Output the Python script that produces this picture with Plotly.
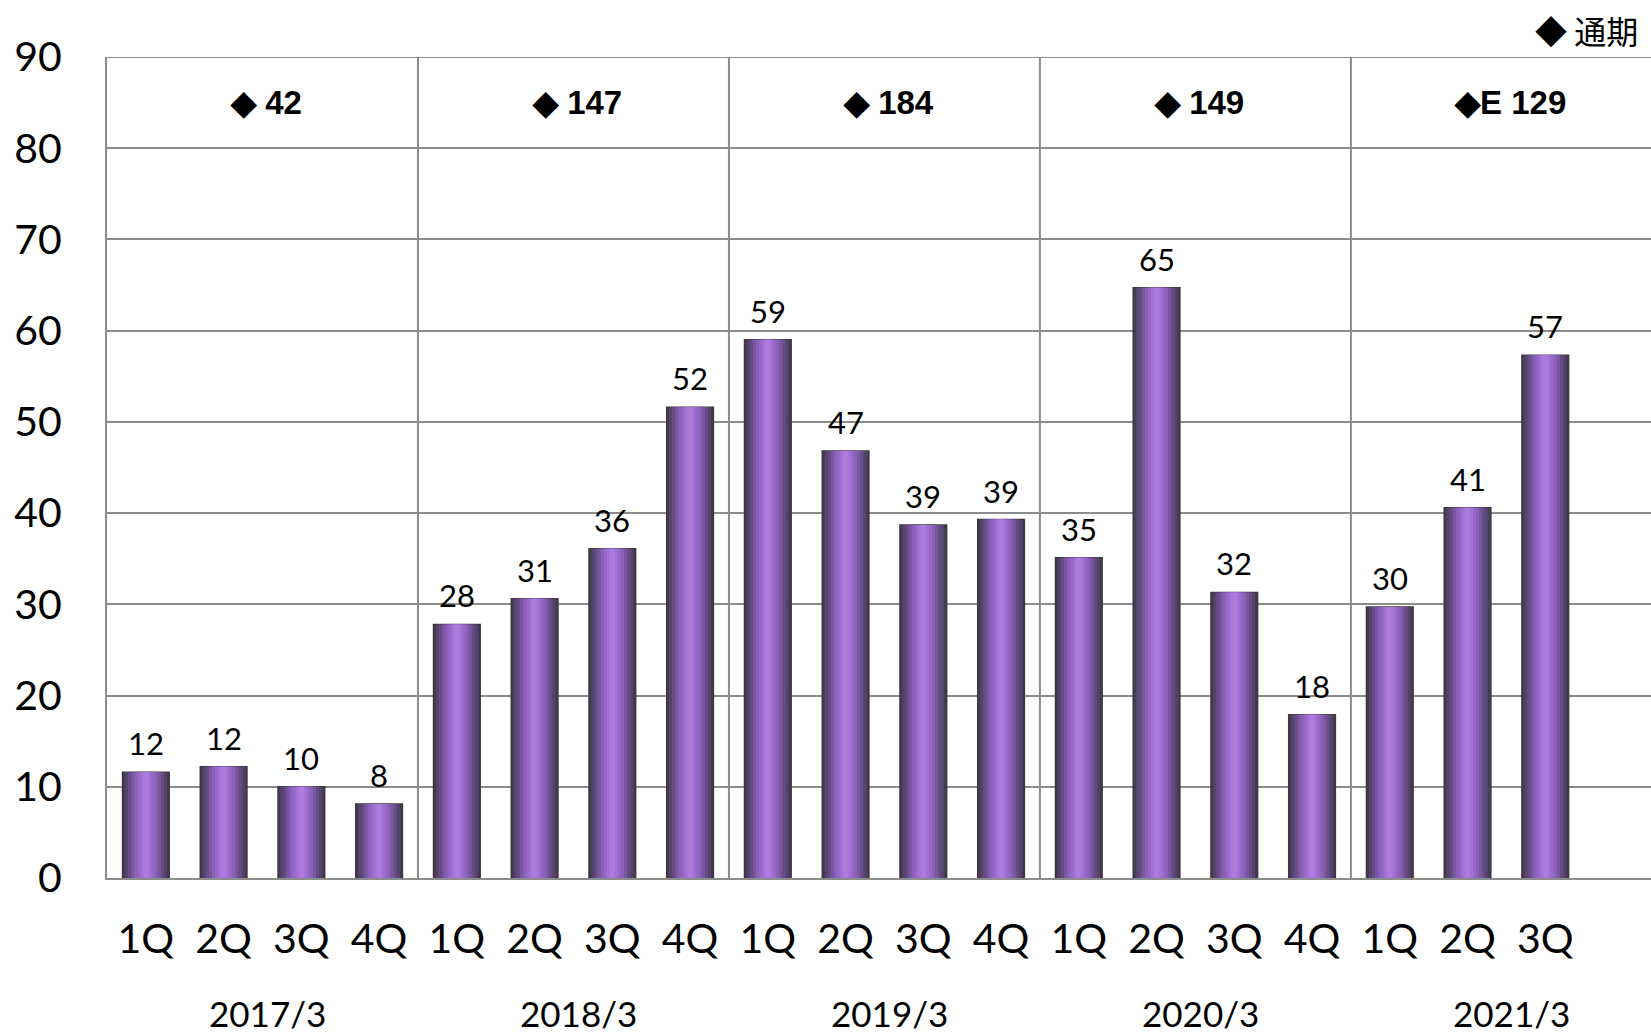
import plotly.graph_objects as go

quarters = ["1Q", "2Q", "3Q", "4Q"] * 4 + ["1Q", "2Q", "3Q"]
values = [11.6, 12.2, 10.0, 8.1, 27.8, 30.6, 36.1, 51.6, 59.0, 46.8, 38.7, 39.3,
          35.1, 64.7, 31.3, 17.9, 29.7, 40.6, 57.3]
value_labels = ["12", "12", "10", "8", "28", "31", "36", "52", "59", "47", "39", "39",
                "35", "65", "32", "18", "30", "41", "57"]
years = ["2017/3", "2018/3", "2019/3", "2020/3", "2021/3"]
annual_labels = ["◆ 42", "◆ 147", "◆ 184", "◆ 149", "◆E 129"]
legend_label = "◆ 通期"

x = list(range(len(values)))

fig = go.Figure()

# cylinder effect with overlaid bars of decreasing width
layers = [
    (0.60, "#463857"),
    (0.54, "#56436c"),
    (0.46, "#664c84"),
    (0.38, "#7857a0"),
    (0.30, "#8a61b8"),
    (0.22, "#9868c8"),
    (0.14, "#a471d6"),
    (0.07, "#ad7ae0"),
]
for i, (w, c) in enumerate(layers):
    fig.add_trace(go.Bar(
        x=x, y=values, width=w,
        marker=dict(color=c,
                    line=dict(color="#3a3a3a" if i == 0 else c, width=1.5 if i == 0 else 0)),
        hoverinfo="skip", showlegend=False,
    ))

# value labels
for xi, v, t in zip(x, values, value_labels):
    fig.add_annotation(x=xi, y=v, text=t, showarrow=False, yanchor="bottom", yshift=8,
                       font=dict(family="Lato", size=31, color="#000000"))

# group dividers and top line
grid_col = "#8c8c8c"
for b in [3.5, 7.5, 11.5, 15.5]:
    fig.add_shape(type="line", x0=b, x1=b, y0=0, y1=90, xref="x", yref="y",
                  line=dict(color=grid_col, width=2), layer="below")
fig.add_shape(type="line", x0=0, x1=1, y0=90, y1=90, xref="paper", yref="y",
              line=dict(color=grid_col, width=2), layer="below")

# annual totals and year labels
for g in range(len(years)):
    cx = g * 4 + 1.5
    fig.add_annotation(x=cx + 0.05, y=85, text="<b>" + annual_labels[g] + "</b>", showarrow=False,
                       font=dict(family="Liberation Sans", size=33, color="#000000"))
    fig.add_annotation(x=cx + 0.07, y=-0.165, yref="paper", text=years[g], showarrow=False,
                       yanchor="middle",
                       font=dict(family="Lato", size=35, color="#000000"))

fig.add_annotation(x=0.993, y=1.033, xref="paper", yref="paper", text=legend_label,
                   showarrow=False, xanchor="right", yanchor="middle",
                   font=dict(family="Noto Sans CJK JP", size=32, color="#000000"))

fig.update_layout(
    width=1651, height=1036,
    margin=dict(l=107, r=0, t=57, b=158),
    paper_bgcolor="white", plot_bgcolor="white",
    barmode="overlay",
    showlegend=False,
    xaxis=dict(range=[-0.5, 19.36], tickmode="array", tickvals=x, ticktext=quarters,
               showgrid=False, zeroline=False, showline=True, linecolor=grid_col, linewidth=2,
               ticks="", ticklabelstandoff=24,
               tickfont=dict(family="Lato", size=41, color="#000000")),
    yaxis=dict(range=[0, 90], tickmode="linear", tick0=0, dtick=10,
               showgrid=True, gridcolor=grid_col, gridwidth=2, zeroline=False,
               showline=True, linecolor=grid_col, linewidth=2,
               ticks="", ticklabelstandoff=35,
               tickfont=dict(family="Lato", size=41, color="#000000")),
)

fig.write_html("out.html", config={"displayModeBar": False},
               post_script="document.body.style.margin='0';document.body.style.overflow='hidden';")
